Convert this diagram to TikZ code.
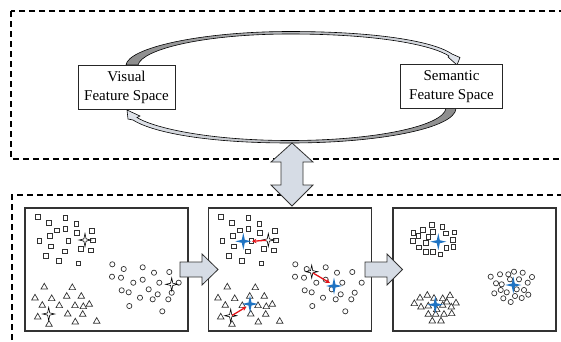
\documentclass[tikz,border=0pt]{standalone}
\usepackage{fontspec}
\setmainfont{Liberation Serif}
\usetikzlibrary{arrows.meta}
\definecolor{arrfill}{RGB}{214,220,229}
\definecolor{swlight}{RGB}{224,228,235}
\definecolor{swdark}{RGB}{140,140,140}
\definecolor{starblue}{RGB}{30,115,195}
\definecolor{redarr}{RGB}{230,20,25}
\definecolor{dk}{RGB}{50,50,50}
\newcommand\hollowstar[1]{\draw[line width=0.6pt,draw=black] (#1) +(6,0) -- +(1.1,-1.1) -- +(0,-6.5) -- +(-1.1,-1.1) -- +(-6,0) -- +(-1.1,1.1) -- +(0,6.5) -- +(1.1,1.1) -- cycle;}
\newcommand\bluestar[1]{\fill[starblue] (#1) +(8,0) -- +(1.5,-1.5) -- +(0,-8.5) -- +(-1.5,-1.5) -- +(-8,0) -- +(-1.5,1.5) -- +(0,8.5) -- +(1.5,1.5) -- cycle;}
\newcommand\myclusters{%
  \foreach \x/\y in {37.7/217,49/222.7,65.3/217.7,76.3/223.7,56.7/230.3,65.3/229,76.7/232.7,92/231,49.7/235.7,39.3/241,68.3/240.7,93/240.3,50.7/246.3,80.7/248.7,90.7/250.3,65/251.3,45.7/255.7,59/260.7,78.3/263.3}
    \draw[mk] (\x-2.3,\y-2.3) rectangle ++(4.6,4.6);
  \foreach \x/\y in {112.3/264.3,123.7/269,142.7/267.3,154/272.7,169.3/272,112/276.7,121/277.7,133.3/282.7,142.7/279.7,159.3/282.7,178.7/282.7,121.7/290.3,128.7/292.3,140/297.7,148.7/289.3,157.7/294.3,152.7/299.3,168.3/299.3,171.7/292.7,129.3/306,162.3/311.3}
    \draw[mk] (\x,\y) circle[radius=2.6pt];
  \foreach \x/\y in {44.3/286.7,72.3/287.3,35/297.7,51.7/298.3,66.7/296,81.3/296,42.3/305,59.3/305.3,75/305.3,83.3/306.3,89.3/304,37.7/316.7,67.7/313.7,82.7/314,49/324,75.3/321.7,96.7/321}
    \draw[mk] (\x,\y-3.4) -- (\x+3.3,\y+2.3) -- (\x-3.3,\y+2.3) -- cycle;
}
\begin{document}
\begin{tikzpicture}[x=1pt,y=-1pt,
  mk/.style={draw=dk,line width=0.7pt},
  dashline/.style={dash pattern=on 6pt off 4pt,line width=1.3pt,draw=black},
  frm/.style={draw=dk,line width=1.1pt},
  fatarrow/.style={fill=arrfill,draw=dk,line width=0.8pt},
  fbox/.style={draw=black!85,fill=white,line width=0.8pt,minimum height=44pt,inner sep=0pt,align=center,font=\fontsize{15}{19}\selectfont},
  redline/.style={draw=redarr,line width=1.3pt,-{Stealth[length=4.5pt,width=4.5pt]}}]
\useasboundingbox (0,0) rectangle (561,341);
\clip (0,0) rectangle (561,341);
% dashed regions
\draw[dashline] (11,11) rectangle (600,159);
\draw[dashline] (12,360) -- (12,195) -- (600,195);
% swoosh arrows
\shade[left color=swdark,right color=swlight,draw=black,line width=0.6pt]
  (126,65) .. controls (128,48) and (200,31.5) .. (290,31.5) .. controls (380,31.5) and (435,42) .. (452,54)
  -- (460,57.5) -- (457,65) -- (448,57) -- (449,56)
  .. controls (432,45) and (378,34) .. (290,34) .. controls (205,34) and (142,49) .. (138,65) -- cycle;
\shade[left color=swlight,right color=swdark,draw=black,line width=0.6pt]
  (456,108.5) .. controls (455,128) and (380,143) .. (290,143) .. controls (200,143) and (150,131) .. (133,120)
  -- (128,119) -- (127,110) -- (140,116) -- (137,117.5)
  .. controls (152,127) and (205,140.5) .. (290,140.5) .. controls (375,140.5) and (443,126) .. (446,108.5) -- cycle;
% boxes
\node[fbox,minimum width=97pt] (vis) at (126.5,87) {Visual\\Feature Space};
\node[fbox,minimum width=102pt] (sem) at (451.5,86.5) {Semantic\\Feature Space};
% double arrow
\draw[fatarrow] (292,143) -- (313,162) -- (303,162) -- (303,185) -- (313,185) -- (292,206) -- (271,185) -- (281,185) -- (281,162) -- (271,162) -- cycle;
% frames
\node[frm,minimum width=163pt,minimum height=123pt,inner sep=0pt] (f1) at (106.5,269.5) {};
\node[frm,minimum width=163.5pt,minimum height=123pt,inner sep=0pt] (f2) at (289.8,269.5) {};
\node[frm,minimum width=163pt,minimum height=123pt,inner sep=0pt] (f3) at (474.5,269.5) {};
% frame 1
\myclusters
\hollowstar{85,240}
\hollowstar{48.7,314}
\hollowstar{171.7,284.3}
% frame 2
\begin{scope}[xshift=183pt]
\myclusters
\end{scope}
\hollowstar{268.3,240}
\hollowstar{230.7,315.7}
\hollowstar{311.7,271.7}
\bluestar{243.3,241.3}
\bluestar{334,286}
\bluestar{250,304}
\draw[redline] (266,240.3) -- (252,241.3);
\draw[redline] (313,273) -- (330,283);
\draw[redline] (232,315.5) -- (246.5,306.7);
% frame 3
\foreach \x/\y in {413.3/232.7,422.7/230,432/225,442.3/227,454.3/232.3,418.3/236,432.7/232,445.7/233.3,412.7/241,419/247.3,426/242.7,453/239.7,426/251.7,433/251.7,440.3/254.3,446.3/247.7,453.3/247,428.3/236.7}
  \draw[mk] (\x-2.3,\y-2.3) rectangle ++(4.6,4.6);
\foreach \x/\y in {420/297.7,427.3/295,434/298,442.7/298.3,450/295.3,414.3/303.3,421/306.7,428.3/305.7,442.7/305,451.3/306.7,456/302.7,428.3/314,435.7/314,444/314,451.7/313.3,432.3/320.7,441/320.7,436.7/309.3,446.7/301.7}
  \draw[mk] (\x,\y-3.4) -- (\x+3.3,\y+2.3) -- (\x-3.3,\y+2.3) -- cycle;
\foreach \x/\y in {490.7/276.7,500/274.3,508.3/274.3,514/271.7,522.7/272.7,532/277,496/283.3,501.7/284.3,519/279.3,527.7/282.7,494.3/293.3,500.7/290,506.7/292.3,516.7/289.3,524/290,528.3/294.7,503.3/298.3,510.7/302,515/296,521.7/298,510/279.3}
  \draw[mk] (\x,\y) circle[radius=2.6pt];
\bluestar{438.3,241.7}
\bluestar{435.3,304.7}
\bluestar{513.3,285}
% horizontal fat arrows
\draw[fatarrow] (180,262) -- (202,262) -- (202,254) -- (218,269.5) -- (202,285) -- (202,277) -- (180,277) -- cycle;
\draw[fatarrow] (365,262) -- (387,262) -- (387,254) -- (402.5,269.5) -- (387,285) -- (387,277) -- (365,277) -- cycle;
\end{tikzpicture}
\end{document}
